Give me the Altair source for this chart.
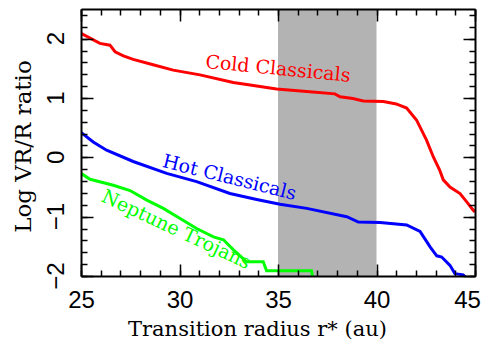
import altair as alt
import pandas as pd

# ---------------- data ----------------
red_x = [25.0, 25.96, 26.47, 26.73, 27.15, 27.65, 28.66, 29.68, 31.04, 32.73, 33.58, 34.93,
         36.46, 37.89, 38.15, 38.8, 39.33, 40.35, 41.0, 41.53, 42.03, 42.54, 42.88, 43.2,
         43.39, 43.73, 44.24, 44.58, 44.91, 45.0]
red_y = [2.09, 1.92, 1.89, 1.78, 1.71, 1.65, 1.56, 1.47, 1.39, 1.26, 1.22, 1.15,
         1.11, 1.07, 1.02, 0.99, 0.95, 0.94, 0.90, 0.83, 0.63, 0.29, 0.01, -0.21,
         -0.38, -0.50, -0.61, -0.75, -0.89, -0.92]

blue_x = [25.0, 25.62, 26.3, 27.65, 29.35, 30.87, 32.56, 33.92, 35.1, 36.46, 38.49, 39.08,
          40.18, 41.53, 42.21, 42.72, 43.06, 43.31, 43.73, 43.98, 44.4, 44.6]
blue_y = [0.42, 0.26, 0.12, -0.07, -0.27, -0.41, -0.61, -0.71, -0.79, -0.86, -1.0, -1.09,
          -1.10, -1.14, -1.25, -1.51, -1.66, -1.68, -1.82, -1.96, -1.98, -2.05]

green_x = [25.0, 25.46, 26.64, 27.49, 28.34, 29.18, 30.03, 30.87, 31.72, 32.23, 32.74, 33.41,
           34.25, 34.42, 36.7, 36.78]
green_y = [-0.27, -0.37, -0.47, -0.56, -0.72, -0.86, -1.03, -1.20, -1.34, -1.39, -1.56, -1.76,
           -1.76, -1.91, -1.91, -2.05]

band_start = [35]
band_end = [40]
band_low = [-2]
band_high = [2.5]

labels = ["Cold Classicals", "Hot Classicals", "Neptune Trojans"]
label_x = [34.97, 32.46, 29.70]
label_y = [1.39, -0.44, -1.31]

x_major = [25, 30, 35, 40, 45]
x_minor = [25, 26, 27, 28, 29, 30, 31, 32, 33, 34, 35, 36, 37, 38, 39, 40, 41, 42, 43, 44, 45]
y_major = [-2, -1, 0, 1, 2]
y_minor = [-2, -1.8, -1.6, -1.4, -1.2, -1, -0.8, -0.6, -0.4, -0.2, 0, 0.2, 0.4, 0.6, 0.8,
           1, 1.2, 1.4, 1.6, 1.8, 2, 2.2, 2.4]

# ---------------- scales & axes ----------------
xs = alt.Scale(domain=[25, 45], nice=False, zero=False)
ys = alt.Scale(domain=[-2, 2.5], nice=False, zero=False)

TICK = dict(labels=False, domain=False, grid=False, tickColor="black", tickWidth=1.5,
            title=None, zindex=1)

x_axes = [
    alt.Axis(orient="bottom", values=x_major, ticks=False, tickSize=0, domain=True,
             domainColor="black", domainWidth=2, grid=False, labelFont="Liberation Sans",
             labelFontSize=24, labelColor="black", labelPadding=31, labelBaseline="alphabetic",
             labelFlush=False, labelOverlap=False, format="d",
             labelOffset={"condition": {"test": "datum.value == 45", "value": -8}, "value": 0},
             title="Transition radius r* (au)", titleFont="DejaVu Serif", titleFontSize=21,
             titleFontWeight="normal", titleColor="black", titleX=176, titleY=59,
             titleAlign="center", titleBaseline="alphabetic", zindex=1),
    alt.Axis(orient="bottom", values=x_major, tickSize=12, offset=-12, **TICK),
    alt.Axis(orient="bottom", values=x_minor, tickSize=6, offset=-6, **TICK),
    alt.Axis(orient="top", values=x_major, tickSize=12, offset=-12, **TICK),
    alt.Axis(orient="top", values=x_minor, tickSize=6, offset=-6, **TICK),
    alt.Axis(orient="top", ticks=False, labels=False, domain=True, domainColor="black",
             domainWidth=2, grid=False, title=None, zindex=1),
]
y_axes = [
    alt.Axis(orient="left", values=y_major, ticks=False, tickSize=0, labels=False, domain=True,
             domainColor="black", domainWidth=2, grid=False,
             title="Log VR/R ratio", titleFont="DejaVu Serif", titleFontSize=23,
             titleFontWeight="normal", titleColor="black", titleAngle=270, titleX=-51,
             titleY=137, titleAlign="center", titleBaseline="alphabetic", zindex=1),
    alt.Axis(orient="left", values=y_major, tickSize=12, offset=-12, **TICK),
    alt.Axis(orient="left", values=y_minor, tickSize=6, offset=-6, **TICK),
    alt.Axis(orient="right", values=y_major, tickSize=12, offset=-12, **TICK),
    alt.Axis(orient="right", values=y_minor, tickSize=6, offset=-6, **TICK),
    alt.Axis(orient="right", ticks=False, labels=False, domain=True, domainColor="black",
             domainWidth=2, grid=False, title=None, zindex=1),
]

# ---------------- layers ----------------
band_df = pd.DataFrame({"x": band_start, "x2": band_end, "y": band_low, "y2": band_high})
band = alt.Chart(band_df).mark_rect(color="#b3b3b3").encode(
    x=alt.X("x:Q", scale=xs, axis=x_axes[0]), x2="x2:Q",
    y=alt.Y("y:Q", scale=ys, axis=y_axes[0]), y2="y2:Q")


def line(xv, yv, color, i):
    df = pd.DataFrame({"x": xv, "y": yv})
    return alt.Chart(df).mark_line(color=color, strokeWidth=3, clip=True).encode(
        x=alt.X("x:Q", scale=xs, axis=x_axes[i]),
        y=alt.Y("y:Q", scale=ys, axis=y_axes[i]))


red = line(red_x, red_y, "#ff0000", 1)
blue = line(blue_x, blue_y, "#0000ff", 2)
green = line(green_x, green_y, "#00ff00", 3)

text_colors = ["#ff0000", "#0000ff", "#00ff00"]
text_angles = [5.5, 14, 25]
text_axes_idx = [4, 5, None]
texts = []
for i in range(3):
    df = pd.DataFrame({"x": [label_x[i]], "y": [label_y[i]], "t": [labels[i]]})
    k = text_axes_idx[i]
    if k is not None:
        xenc = alt.X("x:Q", scale=xs, axis=x_axes[k])
        yenc = alt.Y("y:Q", scale=ys, axis=y_axes[k])
    else:
        xenc = alt.X("x:Q", scale=xs, axis=None)
        yenc = alt.Y("y:Q", scale=ys, axis=None)
    texts.append(alt.Chart(df).mark_text(font="DejaVu Serif", fontSize=19, color=text_colors[i],
                                         angle=text_angles[i], align="center",
                                         baseline="alphabetic").encode(x=xenc, y=yenc, text="t:N"))

# rotated y tick labels (reading upward, as in the reference)
ylab_df = pd.DataFrame({"v": y_major})
ylabels = alt.Chart(ylab_df).mark_text(
    font="Liberation Sans", fontSize=24, color="black", angle=270,
    align="center", baseline="alphabetic"
).encode(
    y=alt.Y("v:Q", scale=ys, axis=None),
    x=alt.value(-17),
    text=alt.Text("v:Q", format="d"),
)

chart = alt.layer(band, red, blue, green, *texts, ylabels).resolve_axis(
    x="independent", y="independent"
).properties(
    width=394, height=267,
    autosize=alt.AutoSizeParams(type="none"),
    padding={"left": 73, "top": 1, "right": 6, "bottom": 64},
    background="white",
).configure_view(stroke=None)

chart.save("out.html", embed_options={"renderer": "svg", "actions": False})
